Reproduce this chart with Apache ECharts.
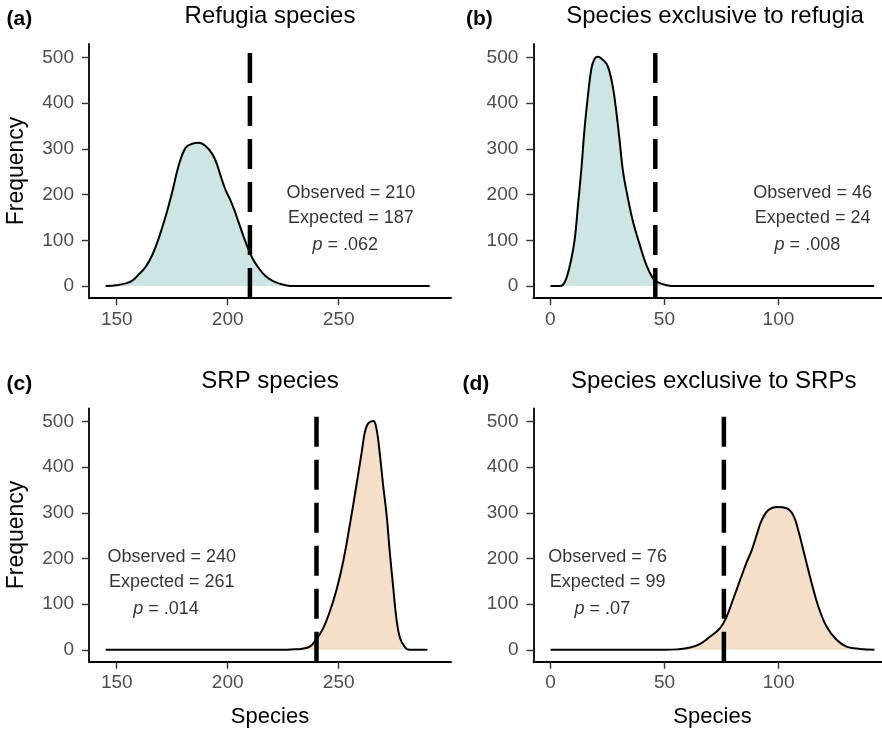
<!DOCTYPE html>
<html><head><meta charset="utf-8">
<script src="https://cdn.jsdelivr.net/npm/echarts@6/dist/echarts.min.js"></script>
<style>html,body{margin:0;padding:0;background:#fff}#c{width:882px;height:731px}</style>
</head><body><div id="c"></div>
<script>
// ---- data ----
const titles = ['Refugia species', 'Species exclusive to refugia', 'SRP species', 'Species exclusive to SRPs'];
const tags = ['(a)', '(b)', '(c)', '(d)'];
const xLabel = 'Species';
const yLabel = 'Frequency';
const yTicks = [0, 100, 200, 300, 400, 500];
const xTicksLow = [150, 200, 250];
const xTicksHigh = [0, 50, 100];

const refugiaX = [145,150,154,157,160,163,166,169,172,175,178,181,184,187,190,193,195,197,199,201,203,205,208,211,214,217,220,223,226,230,291];
const refugiaY = [0,2,6,12,26,42,68,106,152,206,265,302,311,313,306,289,268,238,210,190,166,138,97,62,39,22,12,6,2,0,0];

const exclRefugiaX = [0,4,5.5,7,9,10.7,12.1,13.6,15,16.5,18,19.4,20.9,22.4,24.6,26,27.5,28.9,30.4,31.8,34,36.2,39.2,42.1,45,47.2,51,55,142];
const exclRefugiaY = [0,0,3,17,55,104,177,257,345,418,476,497,501,497,486,467,432,381,316,252,192,141,90,46,17,8,2,0,0];

const srpX = [145,225,230,233,237,240,243,246,249,252,255,258,260.4,261.8,263.3,265.6,267,268.6,270,271.6,273,274.6,276,277.6,280,282,290];
const srpY = [0,0,1,2,7,24,47,84,131,193,273,361,434,477,496,501,485,426,361,295,215,135,69,26,5,0,0];

const exclSrpX = [0,50,55.4,61.2,65.6,70,74.4,77.3,80.2,83.1,86,88.2,90.4,92.6,95.5,99.2,103.5,106.4,108.6,111.5,114.5,117.4,121,125.4,129.8,135.6,142];
const exclSrpY = [0,0,1,5,13,29,48,74,113,153,192,218,252,284,306,313,310,295,262,205,146,95,51,22,7,2,0];

const observed = [210, 46, 240, 76];
const expected = [187, 24, 261, 99];
const pValues = ['.062', '.008', '.014', '.07'];

// ---- layout / style ----
const FONT = '"Liberation Sans", Arial, Helvetica, sans-serif';
const YMIN = -26, YMAX = 529;
const curves = [[refugiaX, refugiaY], [exclRefugiaX, exclRefugiaY], [srpX, srpY], [exclSrpX, exclSrpY]];
const panels = [
  {left: 89,    top: 44,    width: 362, height: 254,   xmin: 137.5, xmax: 300.6, ticks: xTicksLow,  fill: '#cde5e5', annX: 255.5, annPX: 253,   yName: true,  xName: false, titleX: 270,   titleY: 16,  tagX: 6.5, tagY: 19},
  {left: 533.3, top: 44,    width: 358, height: 254,   xmin: -7.5,  xmax: 149.5, ticks: xTicksHigh, fill: '#cde5e5', annX: 115,   annPX: 112.7, yName: false, xName: false, titleX: 715,   titleY: 16,  tagX: 466, tagY: 19},
  {left: 89,    top: 408.3, width: 362, height: 253.4, xmin: 137.5, xmax: 300.6, ticks: xTicksLow,  fill: '#f5dfc9', annX: 174.8, annPX: 172.2, yName: true,  xName: true,  titleX: 270,   titleY: 381, tagX: 6.5, tagY: 384},
  {left: 533.5, top: 408.3, width: 358, height: 253.4, xmin: -7.5,  xmax: 149.5, ticks: xTicksHigh, fill: '#f5dfc9', annX: 25,    annPX: 22.7,  yName: false, xName: true,  titleX: 713.7, titleY: 381, tagX: 462.5, tagY: 384}
];
const annYs = [203, 148, 90];

const grid = [], xAxis = [], yAxis = [], series = [], graphic = [];
panels.forEach((p, i) => {
  grid.push({left: p.left, top: p.top, width: p.width, height: p.height, containLabel: false, outerBoundsMode: 'none'});
  xAxis.push({
    type: 'value', gridIndex: i, min: p.xmin, max: p.xmax,
    axisLine: {show: true, onZero: false, lineStyle: {color: '#000', width: 1.8}},
    axisTick: {show: true, length: 7, customValues: p.ticks, lineStyle: {color: '#333', width: 1.4}},
    axisLabel: {show: true, customValues: p.ticks, margin: 12, color: '#4d4d4d', fontSize: 19, fontFamily: FONT},
    splitLine: {show: false},
    name: p.xName ? xLabel : '', nameLocation: 'middle', nameGap: 44,
    nameTextStyle: {color: '#000', fontSize: 22, fontFamily: FONT}
  });
  yAxis.push({
    type: 'value', gridIndex: i, min: YMIN, max: YMAX,
    axisLine: {show: true, onZero: false, lineStyle: {color: '#000', width: 1.8}},
    axisTick: {show: true, length: 7, customValues: yTicks, lineStyle: {color: '#333', width: 1.4}},
    axisLabel: {show: true, customValues: yTicks, margin: 15, color: '#4d4d4d', fontSize: 19, fontFamily: FONT},
    splitLine: {show: false},
    name: p.yName ? yLabel : '', nameLocation: 'middle', nameGap: 61,
    nameTextStyle: {color: '#000', fontSize: 23, fontFamily: FONT}
  });
  const [cx, cy] = curves[i];
  series.push({
    type: 'line', xAxisIndex: i, yAxisIndex: i, data: cx.map((x, k) => [x, cy[k]]),
    symbol: 'none', smooth: 0.4, silent: true,
    lineStyle: {color: '#000', width: 2},
    areaStyle: {color: p.fill, opacity: 1}, z: 2
  });
  series.push({
    type: 'line', xAxisIndex: i, yAxisIndex: i, data: [[observed[i], YMIN], [observed[i], YMAX]],
    symbol: 'none', silent: true, clip: false,
    lineStyle: {color: '#000', width: 4.5, type: [30, 13], cap: 'butt'}, z: 3
  });
  const lines = ['Observed = ' + observed[i], 'Expected = ' + expected[i], '{it|p} = ' + pValues[i]];
  series.push({
    type: 'scatter', xAxisIndex: i, yAxisIndex: i, symbolSize: 0, silent: true,
    data: [[p.annX, annYs[0], lines[0]], [p.annX, annYs[1], lines[1]], [p.annPX, annYs[2], lines[2]]],
    label: {
      show: true, position: 'inside', color: '#000', fontSize: 18, fontFamily: FONT,
      formatter: (d) => d.data[2],
      rich: {it: {fontStyle: 'italic', fontSize: 18, fontFamily: FONT, color: '#000'}}
    },
    emphasis: {disabled: true}, z: 4
  });
  graphic.push({type: 'text', x: p.titleX, y: p.titleY, style: {text: titles[i], fill: '#000', font: '24px ' + FONT, textAlign: 'center', verticalAlign: 'middle', textVerticalAlign: 'middle'}});
  graphic.push({type: 'text', x: p.tagX, y: p.tagY, style: {text: tags[i], fill: '#000', font: 'bold 21px ' + FONT, textAlign: 'left', verticalAlign: 'middle', textVerticalAlign: 'middle'}});
});

const chart = echarts.init(document.getElementById('c'), null, {renderer: 'canvas'});
chart.setOption({animation: false, backgroundColor: '#fff', grid, xAxis, yAxis, series, graphic});
</script>
</body></html>
